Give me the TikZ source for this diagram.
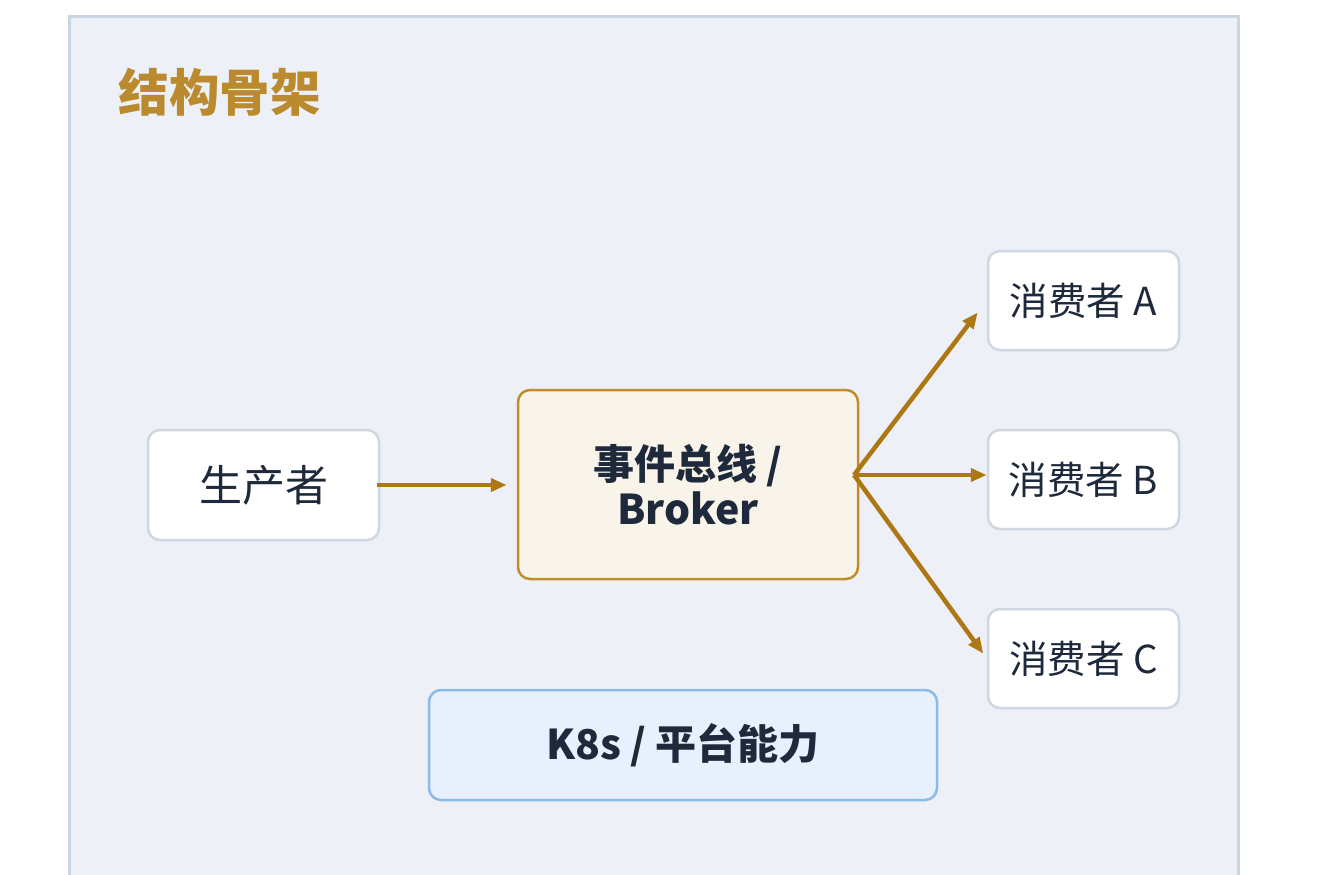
\documentclass[tikz,border=0pt]{standalone}
\usepackage{fontspec}
\setmainfont{Noto Sans CJK SC}
\newfontfamily\cjk{Noto Sans CJK SC}
\usetikzlibrary{arrows.meta,calc}
\definecolor{framefill}{HTML}{EDF1F7}
\definecolor{frameline}{HTML}{CBD5E1}
\definecolor{titlecol}{HTML}{BB8A2E}
\definecolor{inkcol}{HTML}{1E293B}
\definecolor{boxline}{HTML}{CFD7E2}
\definecolor{brokerfill}{HTML}{F8F4EA}
\definecolor{brokerline}{HTML}{C18E2E}
\definecolor{k8sfill}{HTML}{E6F1FD}
\definecolor{k8sline}{HTML}{8DB9E8}
\definecolor{arrowcol}{HTML}{AD7714}
\tikzset{
  plainbox/.style={draw=boxline, fill=white, line width=2.5pt, rounded corners=12pt,
    inner sep=0pt, text=inkcol, font=\cjk\fontsize{38.5}{42}\selectfont},
  brokerbox/.style={draw=brokerline, fill=brokerfill, line width=2.5pt, rounded corners=12pt,
    inner sep=0pt, text=inkcol, align=center, font=\cjk\bfseries\fontsize{41}{45}\selectfont},
  k8sbox/.style={draw=k8sline, fill=k8sfill, line width=2.5pt, rounded corners=12pt,
    inner sep=0pt, text=inkcol, font=\cjk\bfseries\fontsize{41}{45}\selectfont},
  flow/.style={draw=arrowcol, line width=4.5pt, -{Triangle[length=16pt,width=13pt]}},
}
\begin{document}
\begin{tikzpicture}[x=1pt,y=-1pt]
\useasboundingbox (0,0) rectangle (1325,875);
\fill[white] (0,0) rectangle (1325,875);
\clip (0,0) rectangle (1325,875);
\draw[draw=frameline, fill=framefill, line width=3pt] (69,17) rectangle (1238,900);
\node[anchor=west, text=titlecol, font=\cjk\bfseries\fontsize{50.5}{56}\selectfont] (title) at (115,92) {结构骨架};

\node[plainbox, minimum width=231pt, minimum height=110pt, font=\cjk\fontsize{43}{46}\selectfont] (producer) at (263.5,485) {生产者};
\node[brokerbox, minimum width=340pt, minimum height=189pt] (broker) at (688,484.5) {事件总线 /\\Broker};
\node[plainbox, minimum width=191pt, minimum height=99pt] (ca) at (1083.5,300.5) {消费者 A};
\node[plainbox, minimum width=191pt, minimum height=99pt] (cb) at (1083.5,479.5) {消费者 B};
\node[plainbox, minimum width=191pt, minimum height=99pt] (cc) at (1083.5,658.5) {消费者 C};
\node[k8sbox, minimum width=508pt, minimum height=110pt] (k8s) at (683,745) {K8s / 平台能力};

\coordinate (hub) at (854,475);
\draw[flow, shorten <=-3pt, shorten >=10pt] (producer.east) -- (producer.east -| broker.west);
\draw[flow, shorten >=15pt] (hub) -- (ca.west);
\draw[flow] (hub) -- (hub -| cb.west);
\draw[flow, shorten >=6pt] (hub) -- (cc.west);
\end{tikzpicture}
\end{document}
